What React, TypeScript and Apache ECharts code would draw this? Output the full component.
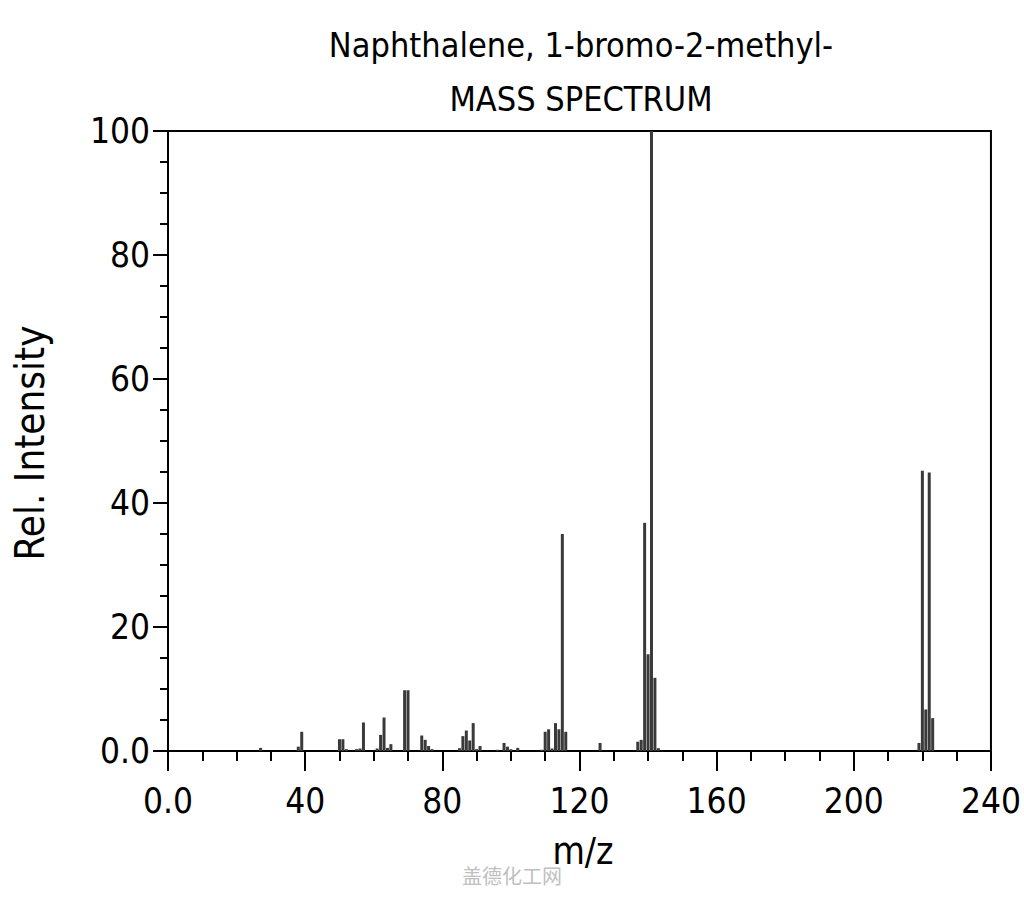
import React, { useEffect, useRef } from "react";
import * as echarts from "echarts";

const mzValues = [27, 38, 39, 50, 51, 52, 55, 56, 57, 61, 62, 63, 64, 65, 69, 70, 74, 75, 76, 77, 85, 86, 87, 88, 89, 90, 91, 96, 98, 99, 100, 102, 109, 110, 111, 112, 113, 114, 115, 116, 126, 137, 138, 139, 140, 141, 142, 143, 219, 220, 221, 222, 223];
const intensities = [0.5, 0.7, 3.1, 1.9, 1.9, 0.3, 0.3, 0.4, 4.6, 0.4, 2.6, 5.4, 0.5, 1.1, 9.8, 9.8, 2.5, 1.8, 0.8, 0.3, 0.45, 2.4, 3.3, 1.7, 4.5, 0.3, 0.8, 0.2, 1.3, 0.7, 0.3, 0.5, 0.2, 3.1, 3.5, 0.4, 4.5, 3.5, 35.0, 3.1, 1.3, 1.5, 1.8, 36.8, 15.6, 100, 11.8, 0.45, 1.3, 45.2, 6.7, 44.9, 5.3];

const titleLines = ["Naphthalene, 1-bromo-2-methyl-", "MASS SPECTRUM"];
const xAxisName = "m/z";
const yAxisName = "Rel. Intensity";
const watermark = "盖德化工网";

const FONT = "'DejaVu Sans Condensed', 'DejaVu Sans', sans-serif";

export default function App() {
  const ref = useRef<HTMLDivElement>(null);
  useEffect(() => {
    if (!ref.current) return;
    const chart = echarts.init(ref.current, null, { renderer: "svg" });
    const fmt = (v: number) => (v === 0 ? "0.0" : String(v));
    chart.setOption({
      animation: false,
      backgroundColor: "#ffffff",
      textStyle: { fontFamily: FONT },
      grid: {
        left: 168,
        right: 32,
        top: 131,
        bottom: 149,
        show: true,
        borderColor: "#000",
        borderWidth: 2,
      },
      xAxis: {
        type: "value",
        min: 0,
        max: 240,
        interval: 40,
        axisLine: { show: true, onZero: false, lineStyle: { color: "#000", width: 2 } },
        axisTick: { show: true, length: 20, lineStyle: { color: "#000", width: 2 } },
        minorTick: { show: true, splitNumber: 4, length: 10, lineStyle: { color: "#000", width: 2 } },
        splitLine: { show: false },
        axisLabel: { formatter: fmt, fontSize: 35, color: "#000", margin: 32, fontFamily: FONT },
      },
      yAxis: {
        type: "value",
        min: 0,
        max: 100,
        interval: 20,
        axisLine: { show: true, lineStyle: { color: "#000", width: 2 } },
        axisTick: { show: true, length: 15, lineStyle: { color: "#000", width: 2 } },
        minorTick: { show: true, splitNumber: 4, length: 8, lineStyle: { color: "#000", width: 2 } },
        splitLine: { show: false },
        axisLabel: { formatter: fmt, fontSize: 35, color: "#000", margin: 18, fontFamily: FONT },
      },
      graphic: [
        {
          type: "text",
          x: 581,
          y: 45,
          style: { text: titleLines[0], font: `34px ${FONT}`, fill: "#000", align: "center", verticalAlign: "middle" },
        },
        {
          type: "text",
          x: 581,
          y: 99,
          style: { text: titleLines[1], font: `34px ${FONT}`, fill: "#000", align: "center", verticalAlign: "middle" },
        },
        {
          type: "text",
          x: 583,
          y: 851,
          style: { text: xAxisName, font: `37px ${FONT}`, fill: "#000", align: "center", verticalAlign: "middle" },
        },
        {
          type: "text",
          x: 30,
          y: 443,
          rotation: Math.PI / 2,
          style: { text: yAxisName, font: `40px ${FONT}`, fill: "#000", align: "center", verticalAlign: "middle" },
        },
        {
          type: "text",
          x: 512,
          y: 875,
          style: { text: watermark, font: `20px 'Noto Sans CJK SC'`, fill: "#c0c0c0", align: "center", verticalAlign: "middle" },
        },
      ],
      series: [
        {
          type: "bar",
          barWidth: 3,
          data: mzValues.map((m, i) => [m, intensities[i]]),
          itemStyle: { color: "#3a3a3a" },
        },
      ],
    });
    return () => chart.dispose();
  }, []);
  return <div ref={ref} style={{ position: "absolute", left: 0, top: 0, width: 1024, height: 900 }} />;
}
